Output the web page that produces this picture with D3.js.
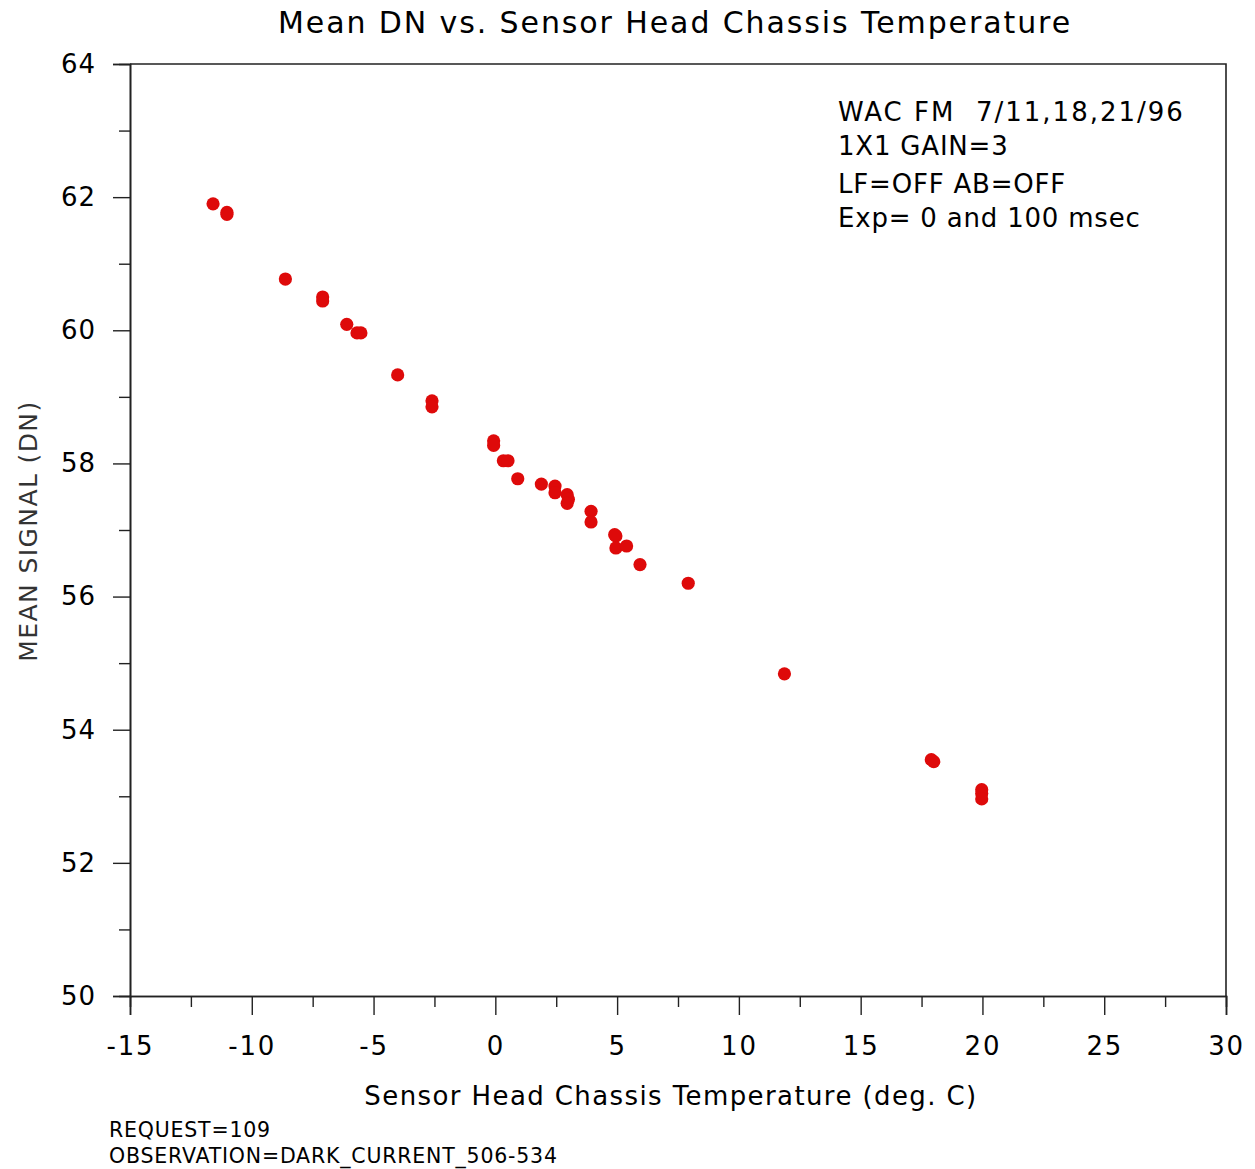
<!DOCTYPE html>
<html>
<head>
<meta charset="utf-8">
<script src="https://cdn.jsdelivr.net/npm/d3@7"></script>
<style>
  html, body { margin: 0; padding: 0; background: #fff; }
  svg { display: block; }
  text { font-family: "DejaVu Sans", Verdana, sans-serif; fill: #000; white-space: pre; }
</style>
</head>
<body>
<svg id="chart" width="1255" height="1169"></svg>
<script>
// Chassis temperature (deg C) and mean dark signal (DN) for each frame
const temperature = [
  -11.59, -11.02, -11.02, -8.62, -7.09, -7.09, -6.10, -5.68, -5.52, -4.01,
  -2.60, -2.60, -0.07, -0.07, 0.33, 0.52, 0.92, 1.89, 2.45, 2.45,
  2.95, 3.00, 2.95, 3.93, 3.93, 4.95, 4.90, 4.95, 5.39, 5.94,
  7.92, 11.87, 17.90, 18.00, 19.97, 19.97, 19.97
];
const meanSignal = [
  61.90, 61.77, 61.74, 60.77, 60.50, 60.44, 60.09, 59.96, 59.96, 59.33,
  58.94, 58.85, 58.34, 58.27, 58.04, 58.04, 57.77, 57.69, 57.66, 57.56,
  57.53, 57.46, 57.40, 57.28, 57.12, 56.91, 56.93, 56.73, 56.76, 56.48,
  56.20, 54.84, 53.55, 53.52, 53.10, 53.04, 52.96
];

const xMajorTicks = [-15, -10, -5, 0, 5, 10, 15, 20, 25, 30];
const xMinorTicks = [-12.5, -7.5, -2.5, 2.5, 7.5, 12.5, 17.5, 22.5, 27.5];
const yMajorTicks = [50, 52, 54, 56, 58, 60, 62, 64];
const yMinorTicks = [51, 53, 55, 57, 59, 61, 63];

const titleText = "Mean DN vs. Sensor Head Chassis Temperature";
const xLabelText = "Sensor Head Chassis Temperature (deg. C)";
const yLabelText = "MEAN SIGNAL (DN)";
const noteLines = ["WAC FM  7/11,18,21/96", "1X1 GAIN=3", "LF=OFF AB=OFF", "Exp= 0 and 100 msec"];
const footerLines = ["REQUEST=109", "OBSERVATION=DARK_CURRENT_506-534"];

const svg = d3.select("#chart");
const plot = { left: 130, right: 1226, top: 64, bottom: 996 };

const x = d3.scaleLinear().domain([-15, 30]).range([plot.left, plot.right]);
const y = d3.scaleLinear().domain([50, 64]).range([plot.bottom, plot.top]);

const axisColor = "#222";

// frame: top and right borders
svg.append("path")
  .attr("d", `M${plot.left},${plot.top}H${plot.right}V${plot.bottom}`)
  .attr("fill", "none").attr("stroke", axisColor).attr("stroke-width", 1.6);

// x axis: minor then major ticks
const gxMinor = svg.append("g").attr("transform", `translate(0,${plot.bottom})`)
  .call(d3.axisBottom(x).tickValues(xMinorTicks).tickSize(11).tickFormat(""));
const gx = svg.append("g").attr("transform", `translate(0,${plot.bottom})`)
  .call(d3.axisBottom(x).tickValues(xMajorTicks).tickSize(19).tickPadding(22)
    .tickFormat(d => d < 0 ? "-" + Math.abs(d) : String(d)));

// y axis: minor then major ticks
const gyMinor = svg.append("g").attr("transform", `translate(${plot.left},0)`)
  .call(d3.axisLeft(y).tickValues(yMinorTicks).tickSize(11).tickFormat(""));
const gy = svg.append("g").attr("transform", `translate(${plot.left},0)`)
  .call(d3.axisLeft(y).tickValues(yMajorTicks).tickSize(17).tickPadding(17));

[gxMinor, gx, gyMinor, gy].forEach(g => {
  g.select(".domain").attr("stroke", axisColor).attr("stroke-width", 1.6);
  g.selectAll(".tick line").attr("stroke", axisColor).attr("stroke-width", 1.4);
});
gx.selectAll(".tick text").attr("font-size", 26).attr("font-family", "DejaVu Sans")
  .attr("fill", "#000").style("letter-spacing", "1.8px");
gy.selectAll(".tick text").attr("font-size", 26).attr("font-family", "DejaVu Sans")
  .attr("fill", "#000").style("letter-spacing", "1px");

// data points
svg.append("g").selectAll("circle")
  .data(temperature.map((t, i) => [t, meanSignal[i]]))
  .join("circle")
  .attr("cx", d => x(d[0]))
  .attr("cy", d => y(d[1]))
  .attr("r", 6.6)
  .attr("fill", "#de0a0a");

// title
svg.append("text")
  .attr("x", 675).attr("y", 33)
  .attr("text-anchor", "middle")
  .attr("font-size", 30)
  .style("letter-spacing", "1.9px")
  .text(titleText);

// axis labels
svg.append("text")
  .attr("x", 671).attr("y", 1105)
  .attr("text-anchor", "middle")
  .attr("font-size", 26)
  .style("letter-spacing", "1.4px")
  .text(xLabelText);

svg.append("text")
  .attr("transform", `translate(37,531) rotate(-90)`)
  .attr("text-anchor", "middle")
  .attr("font-size", 25)
  .attr("font-family", "DejaVu Sans")
  .style("fill", "#333")
  .style("letter-spacing", "1.4px")
  .text(yLabelText);

// annotation block
svg.append("g").selectAll("text")
  .data(noteLines)
  .join("text")
  .attr("x", 838)
  .attr("y", (d, i) => [121, 155, 193, 227][i])
  .attr("font-size", 26)
  .style("letter-spacing", (d, i) => i === 0 ? "2px" : "0.8px")
  .text(d => d);

// request footer
svg.append("g").selectAll("text")
  .data(footerLines)
  .join("text")
  .attr("x", 109)
  .attr("y", (d, i) => 1137 + i * 26)
  .attr("font-size", 20.5)
  .style("letter-spacing", "0.8px")
  .text(d => d);
</script>
</body>
</html>
